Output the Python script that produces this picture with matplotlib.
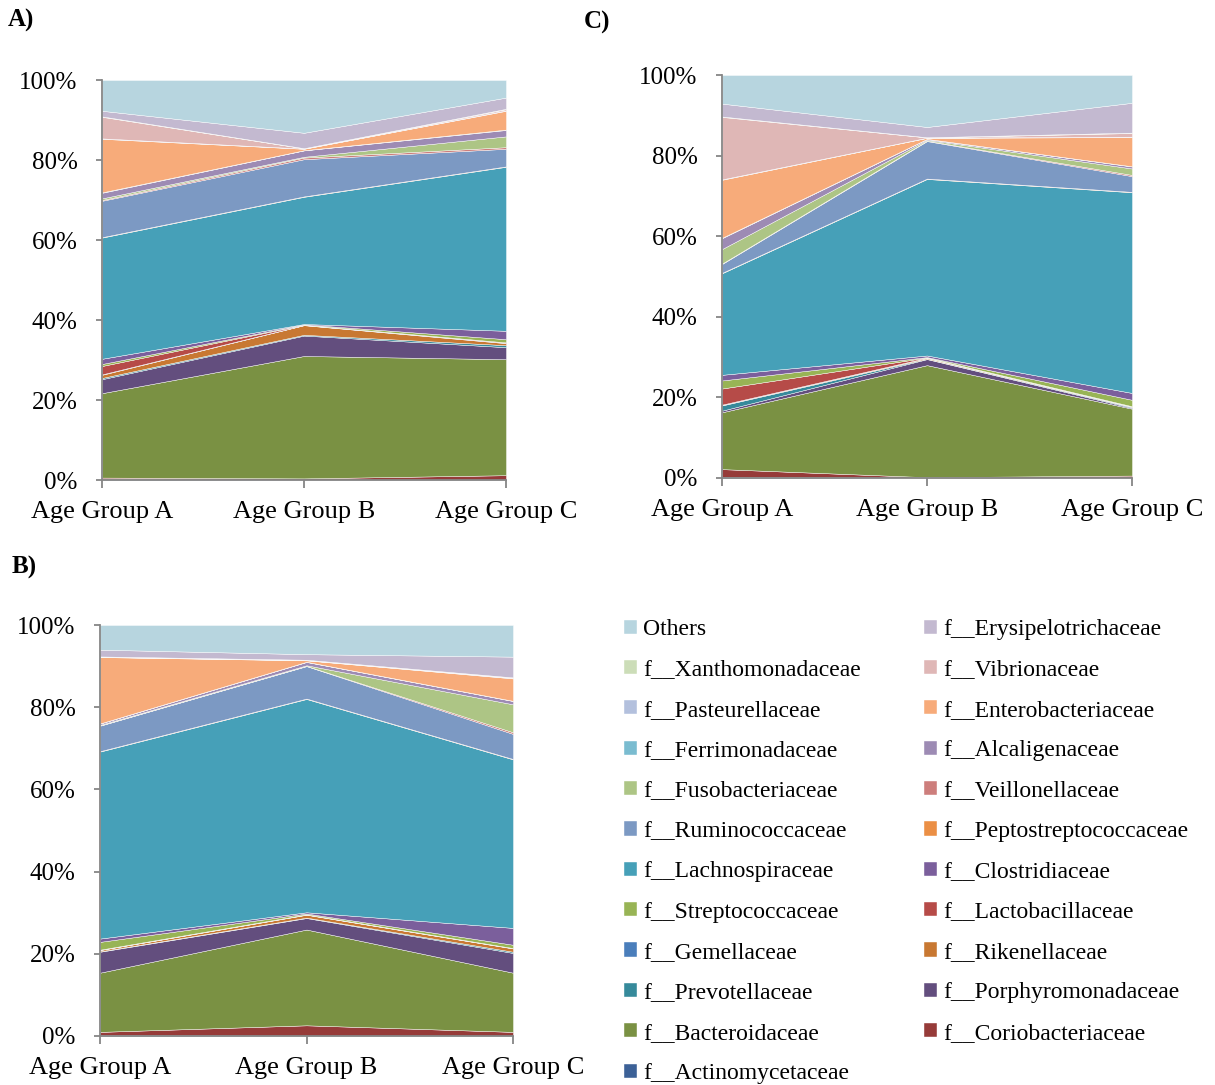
import numpy as np
import matplotlib
matplotlib.use('Agg')
import matplotlib.pyplot as plt
from matplotlib.ticker import FuncFormatter

plt.rcParams['font.family'] = ['Liberation Serif', 'DejaVu Serif']

groups = ['Age Group A', 'Age Group B', 'Age Group C']

# stacking order, bottom first
families = ['f__Actinomycetaceae', 'f__Coriobacteriaceae', 'f__Bacteroidaceae',
            'f__Porphyromonadaceae', 'f__Prevotellaceae', 'f__Rikenellaceae',
            'f__Gemellaceae', 'f__Lactobacillaceae', 'f__Streptococcaceae',
            'f__Clostridiaceae', 'f__Lachnospiraceae', 'f__Peptostreptococcaceae',
            'f__Ruminococcaceae', 'f__Veillonellaceae', 'f__Fusobacteriaceae',
            'f__Alcaligenaceae', 'f__Ferrimonadaceae', 'f__Enterobacteriaceae',
            'f__Pasteurellaceae', 'f__Vibrionaceae', 'f__Xanthomonadaceae',
            'f__Erysipelotrichaceae', 'Others']

colors = ['#3C6197', '#963B39', '#7A9143', '#634E7E', '#368A9B', '#C87832',
          '#4A7EBB', '#B64B48', '#98B455', '#7B5F9C', '#46A0B8', '#EB8F45',
          '#7C99C3', '#CD7E7C', '#ADC585', '#9D8BB4', '#7ABCD0', '#F7AB7A',
          '#B3C0DD', '#DFB7B6', '#CCDDB8', '#C3B9D0', '#B7D5DF']

# percent per family (rows follow `families`), columns = age group A, B, C
panel_a = [[0.2, 0.1, 0.1], [0.4, 0.3, 1.1], [21.1, 30.6, 29.0], [3.5, 5.1, 3.0],
           [0.3, 0.2, 0.5], [0.8, 2.4, 0.5], [0.1, 0.05, 0.1], [2.1, 0.05, 0.1],
           [0.5, 0.1, 0.8], [1.3, 0.1, 2.1], [30.3, 31.8, 41.0], [0.1, 0.1, 0.1],
           [9.1, 9.3, 4.4], [0.2, 0.4, 0.4], [0.4, 0.2, 2.7], [1.4, 1.6, 1.6],
           [0.1, 0.05, 0.1], [13.4, 0.35, 4.7], [0.1, 0.05, 0.1], [5.4, 0.05, 0.3],
           [0.1, 0.05, 0.1], [1.4, 3.85, 2.8], [7.7, 13.2, 4.4]]

panel_b = [[0.2, 0.1, 0.1], [0.8, 2.5, 0.9], [14.4, 23.3, 14.4], [5.1, 2.8, 4.8],
           [0.1, 0.1, 0.3], [0.3, 0.7, 0.8], [0.05, 0.05, 0.05], [0.05, 0.05, 0.05],
           [1.9, 0.2, 0.8], [0.8, 0.3, 4.1], [45.5, 51.9, 41.0], [0.1, 0.1, 0.1],
           [6.2, 7.9, 6.1], [0.05, 0.05, 0.4], [0.15, 0.15, 6.8], [0.3, 0.8, 0.8],
           [0.05, 0.05, 0.05], [16.15, 0.35, 5.45], [0.05, 0.05, 0.1], [0.05, 0.05, 0.1],
           [0.05, 0.05, 0.05], [1.65, 1.35, 5.05], [6.0, 7.1, 7.7]]

panel_c = [[0.3, 0.05, 0.05], [1.9, 0.15, 0.55], [14.1, 27.8, 16.6], [0.4, 1.5, 0.2],
           [1.3, 0.1, 0.2], [0.1, 0.2, 0.1], [0.1, 0.05, 0.05], [4.0, 0.05, 0.05],
           [2.0, 0.1, 1.6], [1.4, 0.4, 1.7], [25.2, 43.8, 49.8], [0.1, 0.1, 0.1],
           [2.2, 9.3, 3.9], [0.1, 0.1, 0.3], [3.6, 0.2, 1.6], [2.7, 0.2, 0.5],
           [0.1, 0.05, 0.05], [14.4, 0.25, 7.25], [0.1, 0.05, 0.1], [15.5, 0.05, 0.9],
           [0.1, 0.05, 0.1], [3.2, 2.55, 7.4], [7.1, 12.9, 6.9]]

W, H = 1215, 1085
fig = plt.figure(figsize=(W / 100, H / 100), dpi=100)

def make_ax(l, r, t, b):
    return fig.add_axes([l / W, 1 - b / H, (r - l) / W, (b - t) / H])

grey = '#868686'

def draw(ax, data):
    x = np.arange(len(groups))
    vals = np.array(data)
    polys = ax.stackplot(x, vals, colors=colors, edgecolor='white', linewidth=0.3)
    ax.set_xlim(0, 2)
    ax.set_ylim(0, 100)
    ax.set_xticks(x)
    ax.set_xticklabels(groups)
    ax.set_yticks(np.arange(0, 101, 20))
    ax.yaxis.set_major_formatter(FuncFormatter(lambda v, p: '%d%%' % v))
    for s in ['top', 'right']:
        ax.spines[s].set_visible(False)
    for s in ['left', 'bottom']:
        ax.spines[s].set_color(grey)
        ax.spines[s].set_linewidth(1.3)
    ax.tick_params(axis='y', length=4.5, width=1.3, color=grey, pad=13, labelsize=18)
    ax.tick_params(axis='x', length=5.5, width=1.3, color=grey, pad=9.5, labelsize=19)
    return polys

ax_a = make_ax(102, 506, 80, 480)
polys = draw(ax_a, panel_a)
ax_c = make_ax(722, 1132, 75, 478)
draw(ax_c, panel_c)
ax_b = make_ax(100, 513, 625, 1036)
draw(ax_b, panel_b)

fig.text(8 / W, 1 - 20 / H, 'A)', fontsize=18, fontweight='bold', va='center')
fig.text(584 / W, 1 - 22 / H, 'C)', fontsize=18, fontweight='bold', va='center')
fig.text(12 / W, 1 - 567 / H, 'B)', fontsize=18, fontweight='bold', va='center')

# legend: top-first, laid out row by row over two columns
rev = list(range(len(families)))[::-1]
col1 = rev[0::2]
col2 = rev[1::2]
for idx, xpos in [(col1, 624), (col2, 924)]:
    fig.legend([polys[i] for i in idx], [families[i] for i in idx],
               loc='upper left', bbox_to_anchor=(xpos / W, 1 - 619 / H),
               frameon=False, fontsize=17, handlelength=0.55, handleheight=0.55,
               handletextpad=0.25, labelspacing=0.82, borderpad=0, borderaxespad=0)

fig.savefig('out.png', dpi=100)
